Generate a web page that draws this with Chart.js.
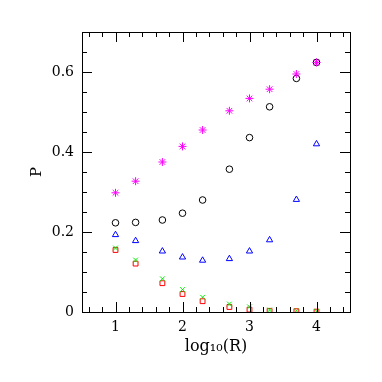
<!DOCTYPE html>
<html>
<head>
<meta charset="utf-8">
<script src="https://cdn.jsdelivr.net/npm/chart.js@4"></script>
<style>
  html, body { margin: 0; padding: 0; background: #fff; }
  #wrap { width: 382px; height: 382px; }
</style>
</head>
<body>
<div id="wrap"><canvas id="chart" width="382" height="382"></canvas></div>
<script>
// ── Data ───────────────────────────────────────────────
const logR      = [1, 1.3, 1.7, 2, 2.3, 2.7, 3, 3.3, 3.7, 4];
const pStar     = [0.298, 0.327, 0.375, 0.414, 0.455, 0.503, 0.534, 0.557, 0.595, 0.624];
const pCircle   = [0.223, 0.224, 0.230, 0.247, 0.280, 0.357, 0.436, 0.513, 0.584, 0.624];
const pTriangle = [0.193, 0.178, 0.152, 0.137, 0.129, 0.133, 0.152, 0.180, 0.281, 0.420];
const pSquare   = [0.155, 0.121, 0.072, 0.045, 0.027, 0.0125, 0.006, 0.003, 0.002, 0.001];
const pCross    = [0.160, 0.130, 0.083, 0.056, 0.037, 0.020, 0.013, 0.005, 0.003, 0.002];
const xTicks    = [1, 2, 3, 4];
const yTicks    = [0, 0.2, 0.4, 0.6];

const FONT = 'DejaVu Serif';
const pts = ys => logR.map((x, i) => ({ x, y: ys[i] }));

function series(data, style, color, radius, order) {
  return {
    data: pts(data),
    pointStyle: style,
    pointRadius: radius,
    pointHoverRadius: radius,
    pointBorderWidth: 1,
    borderColor: color,
    backgroundColor: 'transparent',
    pointBackgroundColor: 'transparent',
    showLine: false,
    order
  };
}

// ── Inward ticks on all four sides ─────────────────────
const frameTicks = {
  id: 'frameTicks',
  afterDraw(chart) {
    const { ctx, chartArea: a, scales: { x, y } } = chart;
    ctx.save();
    ctx.strokeStyle = '#000';
    ctx.lineWidth = 1;
    ctx.beginPath();
    for (let v = 0.6; v < 4.45; v += 0.2) {
      const big = Math.abs(v - Math.round(v)) < 1e-6;
      const px = Math.round(x.getPixelForValue(v)) + 0.5;
      const len = big ? 10 : 5;
      ctx.moveTo(px, a.bottom); ctx.lineTo(px, a.bottom - len);
      ctx.moveTo(px, a.top);    ctx.lineTo(px, a.top + len);
    }
    for (let v = 0.05; v < 0.695; v += 0.05) {
      const big = Math.abs(v / 0.2 - Math.round(v / 0.2)) < 1e-6;
      const py = Math.round(y.getPixelForValue(v)) + 0.5;
      const len = big ? 10 : 5;
      ctx.moveTo(a.left, py);  ctx.lineTo(a.left + len, py);
      ctx.moveTo(a.right, py); ctx.lineTo(a.right - len, py);
    }
    ctx.stroke();
    ctx.strokeRect(a.left + 0.5, a.top + 0.5, a.right - a.left, a.bottom - a.top);
    ctx.restore();
  }
};

new Chart(document.getElementById('chart'), {
  type: 'scatter',
  data: {
    datasets: [
      series(pStar,     'star',     '#ff00ff', 4,   1),
      series(pCircle,   'circle',   '#000000', 3.3, 2),
      series(pTriangle, 'triangle', '#0000ff', 3.6, 3),
      series(pCross,    'crossRot', '#00ee00', 3.3, 4),
      series(pSquare,   'rect',     '#ff0000', 3.4, 5)
    ]
  },
  options: {
    responsive: false,
    animation: false,
    events: [],
    layout: { padding: { left: 0, top: 32, right: 32, bottom: 0 } },
    plugins: { legend: { display: false }, tooltip: { enabled: false } },
    scales: {
      x: {
        type: 'linear', min: 0.5, max: 4.5,
        afterBuildTicks: s => { s.ticks = xTicks.map(value => ({ value })); },
        afterFit: s => { s.height = 70; },
        grid: { display: false, drawTicks: false },
        border: { display: false },
        ticks: { color: '#000', padding: 7, font: { family: FONT, size: 14 }, maxRotation: 0 },
        title: { display: true, text: 'log₁₀(R)', color: '#000', padding: { top: 2, bottom: 26 }, font: { family: FONT, size: 16 } }
      },
      y: {
        type: 'linear', min: 0, max: 0.7,
        afterBuildTicks: s => { s.ticks = yTicks.map(value => ({ value })); },
        afterFit: s => { s.width = 82; },
        grid: { display: false, drawTicks: false },
        border: { display: false },
        ticks: {
          color: '#000', padding: 8, font: { family: FONT, size: 14 },
          callback: v => v === 0 ? '0' : v.toFixed(1)
        },
        title: { display: true, text: 'P', color: '#000', padding: { top: 28, bottom: 0 }, font: { family: FONT, size: 15 } }
      }
    }
  },
  plugins: [frameTicks]
});
</script>
</body>
</html>
